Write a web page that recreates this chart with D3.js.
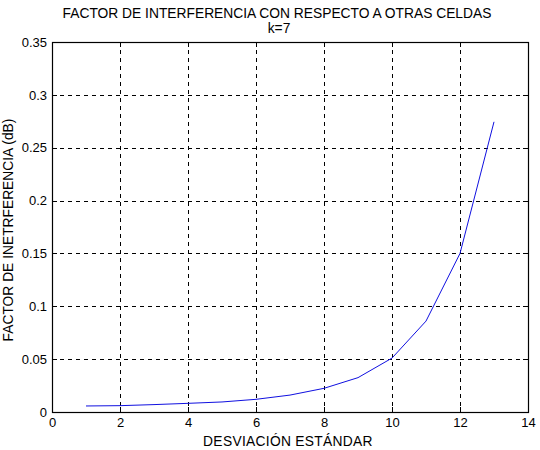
<!DOCTYPE html>
<html><head><meta charset="utf-8">
<script src="https://cdn.jsdelivr.net/npm/d3@7"></script>
<style>body{margin:0;background:#fff}svg{display:block}text{font-family:"Liberation Sans",Arial,sans-serif;fill:#000}</style>
</head><body>
<svg id="c" width="540" height="450"></svg>
<script>
const xValues = [1,2,3,4,5,6,7,8,9,10,11,12,13];
const yValues = [0.0057,0.0060,0.0070,0.0082,0.0095,0.0120,0.0160,0.0224,0.0325,0.0510,0.0860,0.1500,0.2745];
const xTicks = [0,2,4,6,8,10,12,14];
const yTicks = [0,0.05,0.1,0.15,0.2,0.25,0.3,0.35];
const yTickLabels = ["0","0.05","0.1","0.15","0.2","0.25","0.3","0.35"];
const titleLines = ["FACTOR DE INTERFERENCIA CON RESPECTO A OTRAS CELDAS","k=7"];
const xLabel = "DESVIACIÓN ESTÁNDAR";
const yLabel = "FACTOR DE INETRFERENCIA (dB)";

const L=52,R=528,T=42,B=412;
const svg=d3.select("#c");
const x=d3.scaleLinear().domain([0,14]).range([L,R]);
const y=d3.scaleLinear().domain([0,0.35]).range([B,T]);

// grid
const g=svg.append("g");
xTicks.slice(1,-1).forEach(t=>g.append("line").attr("x1",x(t)+0.5).attr("x2",x(t)+0.5).attr("y1",T).attr("y2",B)
  .attr("stroke","#000").attr("stroke-width",1).attr("stroke-dasharray","4,4").attr("shape-rendering","crispEdges"));
yTicks.slice(1,-1).forEach(t=>g.append("line").attr("y1",Math.round(y(t))+0.5).attr("y2",Math.round(y(t))+0.5).attr("x1",L).attr("x2",R)
  .attr("stroke","#000").attr("stroke-width",1).attr("stroke-dasharray","4,4").attr("shape-rendering","crispEdges"));

// axes
const xa=svg.append("g").attr("transform",`translate(0,${B})`).call(d3.axisBottom(x).tickValues(xTicks).tickSize(0).tickPadding(6).tickFormat(d3.format("d")));
const ya=svg.append("g").attr("transform",`translate(${L},0)`).call(d3.axisLeft(y).tickValues(yTicks).tickSize(0).tickPadding(5).tickFormat((d,i)=>yTickLabels[i]));
[xa,ya].forEach(a=>{a.select(".domain").remove();a.selectAll("text").style("font-size","13px").style("font-family","'Liberation Sans',Arial,sans-serif");});
// small inward ticks
xTicks.forEach(t=>{svg.append("line").attr("x1",x(t)+0.5).attr("x2",x(t)+0.5).attr("y1",B).attr("y2",B-5).attr("stroke","#000");
  svg.append("line").attr("x1",x(t)+0.5).attr("x2",x(t)+0.5).attr("y1",T).attr("y2",T+5).attr("stroke","#000");});
yTicks.forEach(t=>{svg.append("line").attr("y1",Math.round(y(t))+0.5).attr("y2",Math.round(y(t))+0.5).attr("x1",L).attr("x2",L+5).attr("stroke","#000");
  svg.append("line").attr("y1",Math.round(y(t))+0.5).attr("y2",Math.round(y(t))+0.5).attr("x1",R).attr("x2",R-5).attr("stroke","#000");});

svg.append("rect").attr("x",L+0.5).attr("y",T+0.5).attr("width",R-L).attr("height",B-T)
  .attr("fill","none").attr("stroke","#000").attr("stroke-width",1.2);

// line
svg.append("path").datum(xValues.map((v,i)=>[v,yValues[i]]))
  .attr("d",d3.line().x(d=>x(d[0])).y(d=>y(d[1])))
  .attr("fill","none").attr("stroke","#1010e0").attr("stroke-width",1);

// titles
svg.append("text").attr("x",277).attr("y",18).attr("text-anchor","middle").style("font-size","13.8px").text(titleLines[0]);
svg.append("text").attr("x",279).attr("y",33).attr("text-anchor","middle").style("font-size","13.8px").text(titleLines[1]);
svg.append("text").attr("x",288).attr("y",446).attr("text-anchor","middle").style("font-size","13.8px").style("letter-spacing","0.3px").text(xLabel);
svg.append("text").attr("transform",`translate(13,230) rotate(-90)`).attr("text-anchor","middle").style("font-size","13.8px").text(yLabel);
</script>
</body></html>
